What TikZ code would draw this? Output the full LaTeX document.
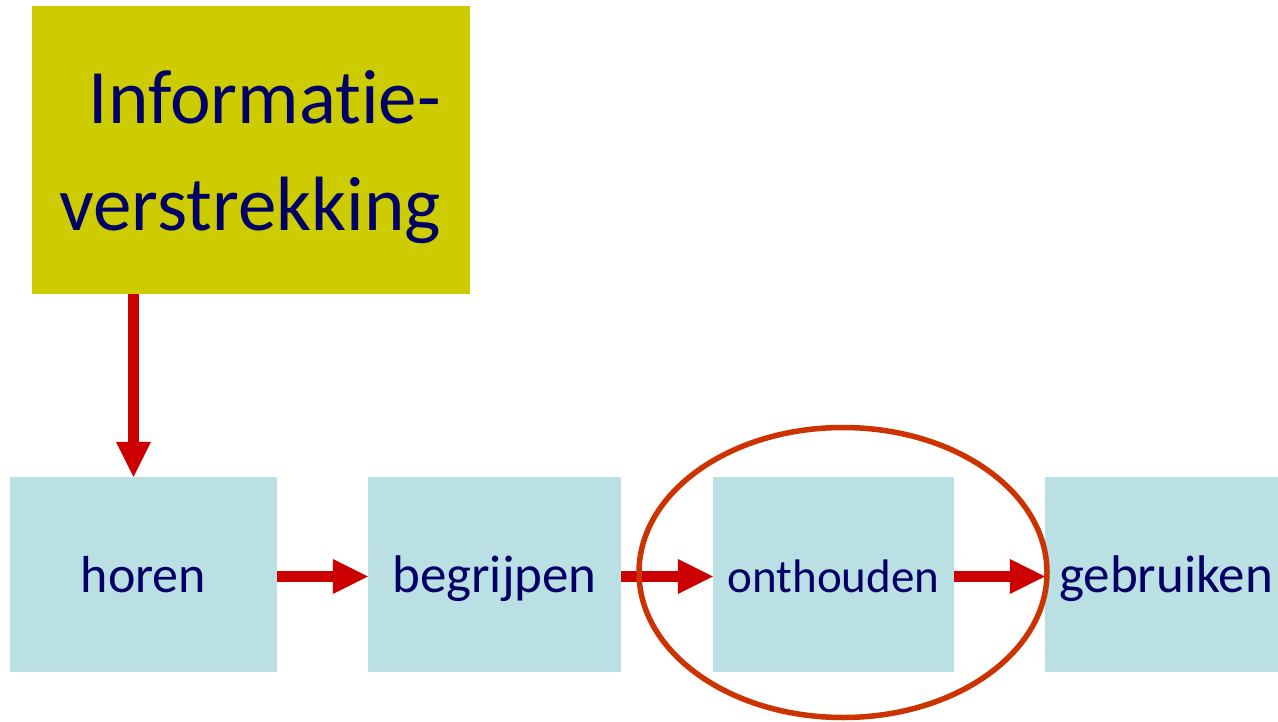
\documentclass[tikz,border=0pt]{standalone}
\usepackage{fontspec}
\setmainfont[Ligatures={NoCommon,NoDiscretionary,NoRare}]{Carlito}
\usetikzlibrary{arrows.meta}
\definecolor{boxcyan}{RGB}{186,224,227}
\definecolor{boxyellow}{RGB}{204,204,0}
\definecolor{navytext}{RGB}{0,0,102}
\definecolor{arrowred}{RGB}{204,0,0}
\definecolor{ringred}{RGB}{204,51,0}
\begin{document}
\begin{tikzpicture}[x=1pt,y=-1pt,
  stepbox/.style={fill=boxcyan, inner sep=0pt, minimum height=195pt,
    text=navytext, text height=35pt, text depth=0pt},
  flow/.style={draw=arrowred, line width=11pt,
    -{Triangle[length=35pt,width=35pt,line width=0pt]}},
  ring/.style={draw=ringred, line width=5.5pt}]
\useasboundingbox (0,0) rectangle (1278,721);
\clip (0,0) rectangle (1278,721);
\node[fill=boxyellow, minimum width=438pt, minimum height=288pt, inner sep=0pt] (info) at (251,150) {};
\node[inner sep=0pt, text=navytext, font=\fontsize{77}{107}\selectfont, align=right]
  (infotext) at ([xshift=-1pt,yshift=-7pt]info.center) {Informatie-\\verstrekking};
\node[stepbox, minimum width=267pt, font=\fontsize{52}{60}\selectfont] (horen) at (143.5,574.5) {horen};
\node[stepbox, minimum width=253pt, font=\fontsize{53}{60}\selectfont] (begrijpen) at (494.5,574.5) {begrijpen};
\node[stepbox, minimum width=241pt, font=\fontsize{47}{60}\selectfont] (onthouden) at (833.5,574.5) {onthouden};
\node[stepbox, minimum width=242pt, font=\fontsize{53}{60}\selectfont] (gebruiken) at (1166,574.5) {gebruiken};
\draw[flow] ([xshift=-10pt]horen.north |- info.south) -- ([xshift=-10pt]horen.north);
\draw[flow] ([yshift=-2pt]horen.east) -- ([yshift=-2pt]begrijpen.west);
\draw[flow] ([yshift=-2pt]begrijpen.east) -- ([yshift=-2pt]onthouden.west);
\draw[flow] ([yshift=-2pt]onthouden.east) -- ([yshift=-2pt]gebruiken.west);
\draw[ring] ([xshift=9.5pt,yshift=2pt]onthouden.center) ellipse [x radius=204pt, y radius=145pt];
\end{tikzpicture}
\end{document}
